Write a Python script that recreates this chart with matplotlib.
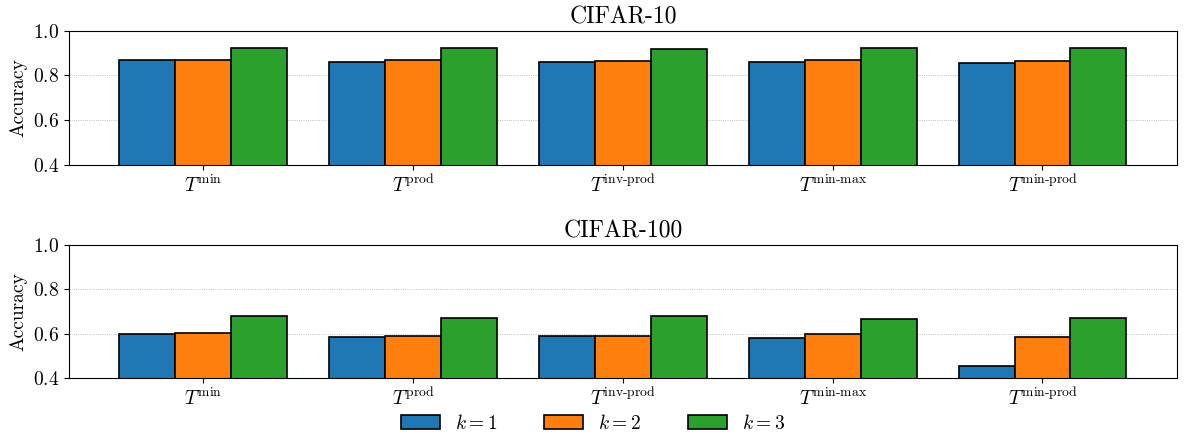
"""Grouped bar chart: accuracy of T-norm variants on CIFAR-10 / CIFAR-100."""

import matplotlib
matplotlib.use("Agg")
import matplotlib.pyplot as plt
import numpy as np

plt.rcParams["font.family"] = "serif"
plt.rcParams["font.serif"] = ["cmr10"]
plt.rcParams["mathtext.fontset"] = "cm"
plt.rcParams["axes.formatter.use_mathtext"] = True
plt.rcParams["font.size"] = 14

methods = [r"$T^{\mathrm{min}}$", r"$T^{\mathrm{prod}}$", r"$T^{\mathrm{inv\text{-}prod}}$",
           r"$T^{\mathrm{min\text{-}max}}$", r"$T^{\mathrm{min\text{-}prod}}$"]
k_labels = [r"$k=1$", r"$k=2$", r"$k=3$"]
colors = ["#1f77b4", "#ff7f0e", "#2ca02c"]

cifar10_k1 = [0.870, 0.862, 0.858, 0.861, 0.856]
cifar10_k2 = [0.871, 0.871, 0.865, 0.871, 0.865]
cifar10_k3 = [0.922, 0.921, 0.918, 0.922, 0.924]

cifar100_k1 = [0.601, 0.586, 0.592, 0.582, 0.458]
cifar100_k2 = [0.605, 0.589, 0.589, 0.598, 0.586]
cifar100_k3 = [0.680, 0.671, 0.680, 0.668, 0.672]

panels = [
    ("CIFAR-10", [cifar10_k1, cifar10_k2, cifar10_k3]),
    ("CIFAR-100", [cifar100_k1, cifar100_k2, cifar100_k3]),
]

fig = plt.figure(figsize=(11.86, 4.37), dpi=100)
axes = [fig.add_axes([0.0582, 0.6231, 0.934, 0.3066]),
        fig.add_axes([0.0582, 0.1339, 0.934, 0.3066])]

x = np.arange(len(methods))
width = 0.8 / 3
for ax, (title, series) in zip(axes, panels):
    for i, vals in enumerate(series):
        ax.bar(x + (i - 1) * width, vals, width, color=colors[i],
               edgecolor="black", linewidth=1.2, label=k_labels[i])
    ax.set_ylim(0.4, 1.0)
    ax.set_yticks([0.4, 0.6, 0.8, 1.0])
    ax.set_xticks(x)
    ax.set_xticklabels(methods)
    ax.set_ylabel("Accuracy")
    ax.set_title(title, fontsize=17, pad=5)
    ax.yaxis.grid(True, linestyle=":", linewidth=0.6, color="#aaaaaa")
    ax.set_axisbelow(True)

handles, labels = axes[0].get_legend_handles_labels()
fig.legend(handles, labels, loc="lower center", bbox_to_anchor=(0.5, -0.03),
           ncol=3, frameon=False, columnspacing=2.4, fontsize=14)

fig.savefig("out.png", dpi=100)
